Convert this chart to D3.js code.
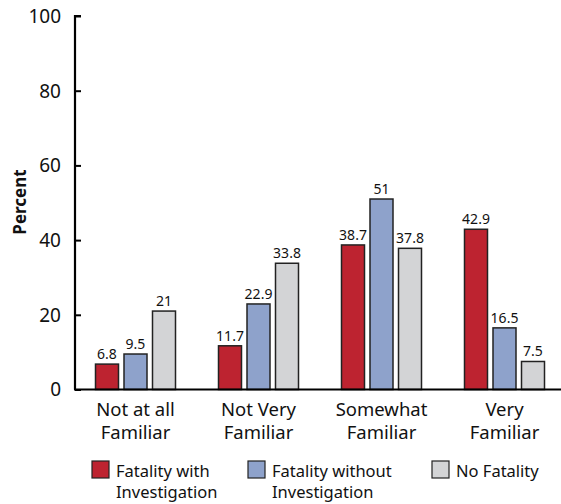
<!DOCTYPE html>
<html><head><meta charset="utf-8">
<script src="https://cdn.jsdelivr.net/npm/d3@7"></script>
<style>body{margin:0;background:#fff;} text{font-family:"Noto Sans",sans-serif;fill:#111;}</style>
</head><body>
<svg id="c" width="561" height="504"></svg>
<script>
const categories = [["Not at all","Familiar"],["Not Very","Familiar"],["Somewhat","Familiar"],["Very","Familiar"]];
const seriesNames = [["Fatality with","Investigation"],["Fatality without","Investigation"],["No Fatality"]];
const withInvestigation = [6.8, 11.7, 38.7, 42.9];
const withoutInvestigation = [9.5, 22.9, 51, 16.5];
const noFatality = [21, 33.8, 37.8, 7.5];
const yTicks = [0, 20, 40, 60, 80, 100];
const colors = ["#bd2330", "#8ea2cb", "#d3d4d6"];

const series = [withInvestigation, withoutInvestigation, noFatality];
const svg = d3.select("#c");
const x0 = d3.scaleBand().domain(d3.range(categories.length)).range([74, 566]).paddingInner(0).paddingOuter(0);
const y = d3.scaleLinear().domain([0, 100]).range([389.5, 16]);
const bw = 23, step = 28.5;

// bars
series.forEach((vals, si) => {
  const g = svg.append("g");
  vals.forEach((v, ci) => {
    const cx = x0(ci) + x0.bandwidth()/2 + (si - 1) * step;
    g.append("rect").attr("x", cx - bw/2).attr("y", y(v)).attr("width", bw).attr("height", y(0) - y(v))
      .attr("fill", colors[si]).attr("stroke", "#222").attr("stroke-width", 1.5);
    g.append("text").attr("x", cx).attr("y", y(v) - 5).attr("text-anchor", "middle")
      .style("font-size", "14px").text(v);
  });
});

// y axis
const yAxis = d3.axisLeft(y).tickValues(yTicks).tickSize(-6).tickPadding(14);
const ya = svg.append("g").attr("transform", "translate(75,0)").call(yAxis);
ya.select(".domain").attr("stroke", "#000").attr("stroke-width", 2.2).attr("d", `M6,${y(100)}H0V${y(0)}`);
ya.selectAll(".tick line").attr("stroke", "#000").attr("stroke-width", 2);
ya.selectAll(".tick text").style("font-size", "19px").attr("fill", "#111").attr("dy", "0.34em");

// x axis line
svg.append("line").attr("x1", 74).attr("x2", 566).attr("y1", y(0)).attr("y2", y(0)).attr("stroke", "#000").attr("stroke-width", 2);

// x labels
categories.forEach((lines, ci) => {
  const cx = x0(ci) + x0.bandwidth()/2;
  lines.forEach((l, li) => {
    svg.append("text").attr("x", cx).attr("y", 416 + li * 23).attr("text-anchor", "middle")
      .style("font-size", "18.5px").text(l);
  });
});

// y title
svg.append("text").attr("transform", "translate(26,202) rotate(-90)").attr("text-anchor", "middle")
  .style("font-size", "17px").style("font-weight", "bold").text("Percent");

// legend
const legX = [92, 248, 432];
seriesNames.forEach((lines, si) => {
  svg.append("rect").attr("x", legX[si]).attr("y", 461).attr("width", 17).attr("height", 17)
    .attr("fill", colors[si]).attr("stroke", "#222").attr("stroke-width", 1.2);
  lines.forEach((l, li) => {
    svg.append("text").attr("x", legX[si] + 24).attr("y", 477 + li * 21).style("font-size", "16.5px").text(l);
  });
});
</script>
</body></html>
